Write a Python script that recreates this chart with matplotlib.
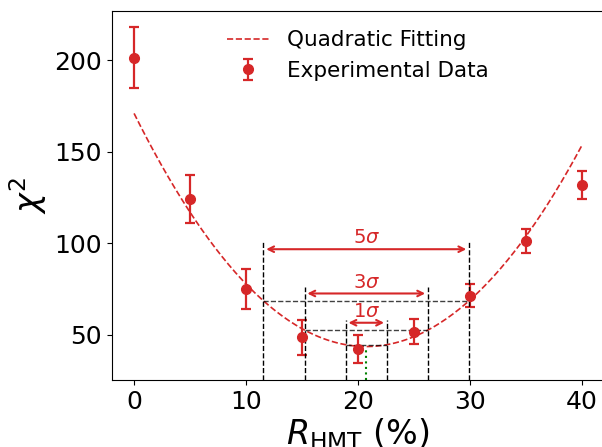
import numpy as np
import matplotlib
matplotlib.use("Agg")
import matplotlib.pyplot as plt

# measured chi^2 vs R_HMT
r_hmt = np.array([0, 5, 10, 15, 20, 25, 30, 35, 40])
chi2 = np.array([201.5, 124.0, 75.0, 48.6, 42.2, 51.6, 71.3, 101.1, 131.7])
chi2_err = np.array([16.8, 13.2, 11.0, 9.5, 7.8, 6.7, 6.4, 6.7, 7.7])

# quadratic fit: chi2 = a*(x - x0)^2 + c
fit_a = 0.296
fit_x0 = 20.75
fit_c = 43.5

# confidence levels
n_sigma = [1, 3, 5]
arrow_y = [56.5, 72.5, 96.7]
vline_top = [57.8, 75.8, 100.8]
label_y = [57.5, 73.5, 97.7]

red = 'tab:red'

fig = plt.figure(figsize=(6.02, 4.47), dpi=100)
ax = fig.add_axes([111.7 / 602, 1 - 380 / 447, (604 - 111.7) / 602, (380 - 10.7) / 447])

ymin, ymax = 25.2, 227.1

xf = np.linspace(r_hmt.min(), r_hmt.max(), 200)
ax.plot(xf, np.polyval([fit_a, -2 * fit_a * fit_x0, fit_a * fit_x0**2 + fit_c], xf),
        '--', color=red, lw=1.2, label='Quadratic Fitting')
ax.errorbar(r_hmt, chi2, yerr=chi2_err, fmt='o', color=red, ms=7,
            elinewidth=1.6, capsize=3.5, capthick=1.6, label='Experimental Data')

for n, ya, yt, yl in zip(n_sigma, arrow_y, vline_top, label_y):
    half = n / np.sqrt(fit_a)
    left, right = fit_x0 - half, fit_x0 + half
    ax.vlines([left, right], ymin, yt, colors='k', linestyles='--', lw=1)
    ax.hlines(fit_c + n**2, left, right, colors='k', linestyles='--', lw=1, alpha=0.75)
    ax.annotate('', xy=(right, ya), xytext=(left, ya),
                arrowprops=dict(arrowstyle='<->', color=red, lw=1.5))
    ax.text(fit_x0, yl, r'$%d\sigma$' % n, color=red, fontsize=14,
            ha='center', va='bottom')

ax.vlines(fit_x0, ymin, fit_c, colors='green', linestyles=':', lw=1.5)

ax.set_xlim(-2, 42)
ax.set_ylim(ymin, ymax)
ax.set_xticks([0, 10, 20, 30, 40])
ax.set_yticks([50, 100, 150, 200])
ax.tick_params(labelsize=18)
ax.set_xlabel(r'$R_{\rm HMT}$ (%)', fontsize=24, labelpad=2)
ax.set_ylabel(r'$\chi^2$', fontsize=24)
ax.legend(loc='upper center', frameon=False, fontsize=15.5)

fig.savefig('out.png', dpi=100)
